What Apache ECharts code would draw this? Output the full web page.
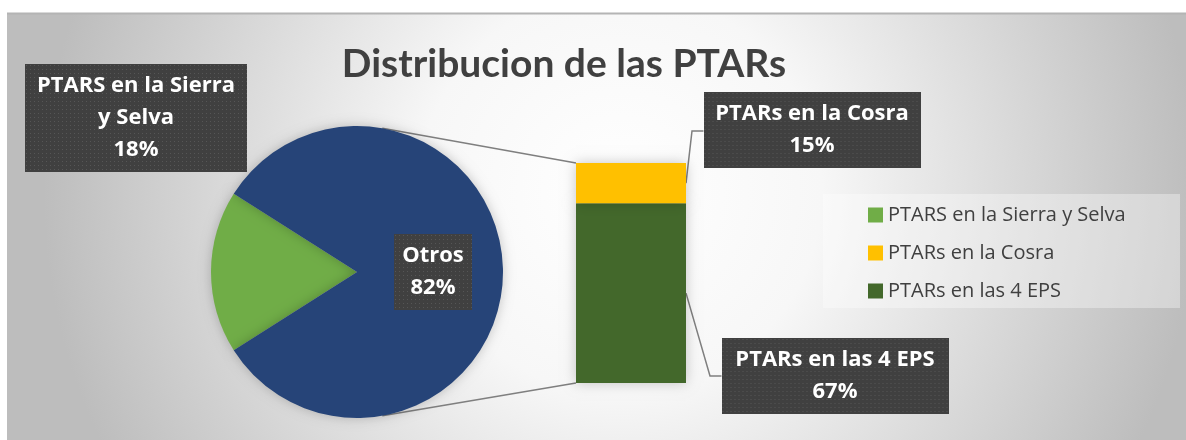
<!DOCTYPE html>
<html>
<head>
<meta charset="utf-8">
<script src="https://cdn.jsdelivr.net/npm/echarts@6/dist/echarts.min.js"></script>
<style>
html, body { margin: 0; padding: 0; background: #fff; }
#chart { width: 1186px; height: 440px; }
</style>
</head>
<body>
<div id="chart"></div>
<script>
// datos
const titleText = 'Distribucion de las PTARs';
const pieNames = ['PTARS en la Sierra y Selva', 'Otros'];
const pieValues = [18, 82];
const barCategory = ['PTARs'];
const barNames = ['PTARs en las 4 EPS', 'PTARs en la Cosra'];
const barValues = [67, 15];
const legendNames = ['PTARS en la Sierra y Selva', 'PTARs en la Cosra', 'PTARs en las 4 EPS'];

const TITLE_FONT = 'Lato, "Open Sans", sans-serif';
const FONT = '"Open Sans", Lato, sans-serif';
const PIE_C = [357, 272];
const PIE_R = 146;
const BAR = { left: 576, top: 163, width: 110, height: 220 };

// fondo oscuro punteado de las etiquetas
function dotPattern(w, h) {
    const c = document.createElement('canvas');
    c.width = w; c.height = h;
    const ctx = c.getContext('2d');
    ctx.fillStyle = '#404040';
    ctx.fillRect(0, 0, w, h);
    ctx.fillStyle = '#565656';
    for (let y = 1; y < h; y += 4) {
        for (let x = 1; x < w; x += 4) ctx.fillRect(x, y, 1, 1);
    }
    return c;
}

function boxLabel(w, lines, extra) {
    return Object.assign({
        show: true,
        color: '#fff',
        fontFamily: FONT,
        fontWeight: 'bold',
        fontSize: 22,
        lineHeight: 32,
        width: w,
        overflow: 'none',
        align: 'center',
        padding: [6, 10],
        backgroundColor: { image: dotPattern(w + 20, lines * 32 + 12) },
        shadowColor: 'rgba(0,0,0,0.5)',
        shadowBlur: 4,
        shadowOffsetX: 2,
        shadowOffsetY: 2
    }, extra);
}

// posicion de las etiquetas movidas (centro de cada recuadro)
const labelPos = {
    'PTARS en la Sierra y Selva': [136, 118],
    'PTARs en la Cosra': [812, 130],
    'PTARs en las 4 EPS': [835, 376]
};

const chart = echarts.init(document.getElementById('chart'));

const pieColors = ['#70ad47', '#264478'];
const barColors = ['#43682b', '#ffc000'];
const barLabelWidth = [207, 197];
const shadow = { shadowBlur: 12, shadowColor: 'rgba(0,0,0,0.22)' };

const option = {
    backgroundColor: '#fff',
    animation: false,
    title: {
        text: titleText,
        left: 559,
        top: 40,
        textAlign: 'center',
        textStyle: { fontFamily: TITLE_FONT, fontWeight: 'bold', fontSize: 39, color: '#404040' }
    },
    legend: {
        data: legendNames,
        orient: 'vertical',
        left: 863,
        top: 200,
        icon: 'rect',
        itemWidth: 15,
        itemHeight: 15,
        itemGap: 18,
        textStyle: { fontFamily: FONT, fontSize: 20, color: '#404040' }
    },
    grid: { left: BAR.left, top: BAR.top, width: BAR.width, height: BAR.height },
    xAxis: { type: 'category', data: barCategory, show: false },
    yAxis: { type: 'value', min: 0, max: barValues.reduce((a, b) => a + b, 0), show: false },
    graphic: [{
        id: 'bg',
        type: 'rect',
        z: -10,
        shape: { x: 7, y: 13, width: 1179, height: 427 },
        style: {
            fill: new echarts.graphic.RadialGradient(0.52, 0.42, 1.35, [
                { offset: 0, color: '#ffffff' },
                { offset: 0.35, color: '#f7f7f7' },
                { offset: 1, color: '#bdbdbd' }
            ]),
            stroke: null
        }
    }, {
        id: 'bgline',
        type: 'line',
        z: -9,
        shape: { x1: 7, y1: 13.5, x2: 1186, y2: 13.5 },
        style: { stroke: '#b4b4b4', lineWidth: 2 }
    }, {
        id: 'legendbox',
        type: 'rect',
        z: -8,
        shape: { x: 823, y: 194, width: 357, height: 114 },
        style: { fill: 'rgba(255,255,255,0.35)', stroke: null }
    }],
    series: [{
        type: 'pie',
        center: PIE_C,
        radius: PIE_R,
        startAngle: 180 + pieValues[0] / 100 * 180,
        clockwise: true,
        labelLine: { show: false },
        emphasis: { disabled: true },
        data: pieNames.map((n, i) => ({
            name: n,
            value: pieValues[i],
            itemStyle: Object.assign({ color: pieColors[i] }, shadow),
            label: i === 0
                ? boxLabel(202, 3, { position: 'inside', formatter: (p) => p.name.replace(' y Selva', '\ny Selva') + '\n' + Math.round(p.percent) + '%' })
                : boxLabel(58, 2, { position: 'inside', formatter: (p) => p.name + '\n' + Math.round(p.percent) + '%' })
        })),
        labelLayout: (p) => {
            const pos = labelPos[pieNames[p.dataIndex]];
            if (!pos) return {};
            return { x: pos[0], y: pos[1], align: 'center', verticalAlign: 'middle' };
        }
    }].concat(barNames.map((n, i) => ({
        type: 'bar',
        name: n,
        stack: 'ptar',
        barWidth: '100%',
        itemStyle: Object.assign({ color: barColors[i] }, shadow),
        emphasis: { disabled: true },
        data: [barValues[i]],
        label: boxLabel(barLabelWidth[i], 2, { position: 'inside', formatter: (p) => p.seriesName + '\n' + p.value + '%' }),
        labelLayout: () => ({ x: labelPos[n][0], y: labelPos[n][1], align: 'center', verticalAlign: 'middle' })
    })))
};

chart.setOption(option);

// lineas de conexion entre el pie y la barra, y guias de las etiquetas
function drawConnectors() {
    const total = barValues.reduce((a, b) => a + b, 0);
    const pTop = chart.convertToPixel({ gridIndex: 0 }, [barCategory[0], total]);
    const pSplit = chart.convertToPixel({ gridIndex: 0 }, [barCategory[0], barValues[0]]);
    const pBottom = chart.convertToPixel({ gridIndex: 0 }, [barCategory[0], 0]);
    const half = BAR.width / 2;
    const xl = pTop[0] - half, xr = pTop[0] + half;
    const ang = 80 * Math.PI / 180;
    const ux = PIE_C[0] + PIE_R * Math.cos(ang);
    const uyTop = PIE_C[1] - PIE_R * Math.sin(ang);
    const uyBot = PIE_C[1] + PIE_R * Math.sin(ang);

    const cosraBox = labelPos['PTARs en la Cosra'][0] - (barLabelWidth[1] + 20) / 2;
    const epsBox = labelPos['PTARs en las 4 EPS'][0] - (barLabelWidth[0] + 20) / 2;
    const cosraMid = (pTop[1] + pSplit[1]) / 2;
    const epsMid = (pSplit[1] + pBottom[1]) / 2;

    const lineStyle = { stroke: '#7f7f7f', lineWidth: 1.5, fill: null };
    chart.setOption({
        graphic: [
            { id: 'c1', type: 'line', z: 1, shape: { x1: ux, y1: uyTop, x2: xl, y2: pTop[1] }, style: lineStyle },
            { id: 'c2', type: 'line', z: 1, shape: { x1: ux, y1: uyBot, x2: xl, y2: pBottom[1] }, style: lineStyle },
            { id: 'g1', type: 'polyline', z: 1, shape: { points: [[cosraBox, labelPos['PTARs en la Cosra'][1] + 1], [xr + 6, labelPos['PTARs en la Cosra'][1] + 1], [xr, cosraMid]] }, style: lineStyle },
            { id: 'g2', type: 'polyline', z: 1, shape: { points: [[epsBox, labelPos['PTARs en las 4 EPS'][1]], [xr + 24, labelPos['PTARs en las 4 EPS'][1]], [xr, epsMid]] }, style: lineStyle }
        ]
    });
}
drawConnectors();
</script>
</body>
</html>
